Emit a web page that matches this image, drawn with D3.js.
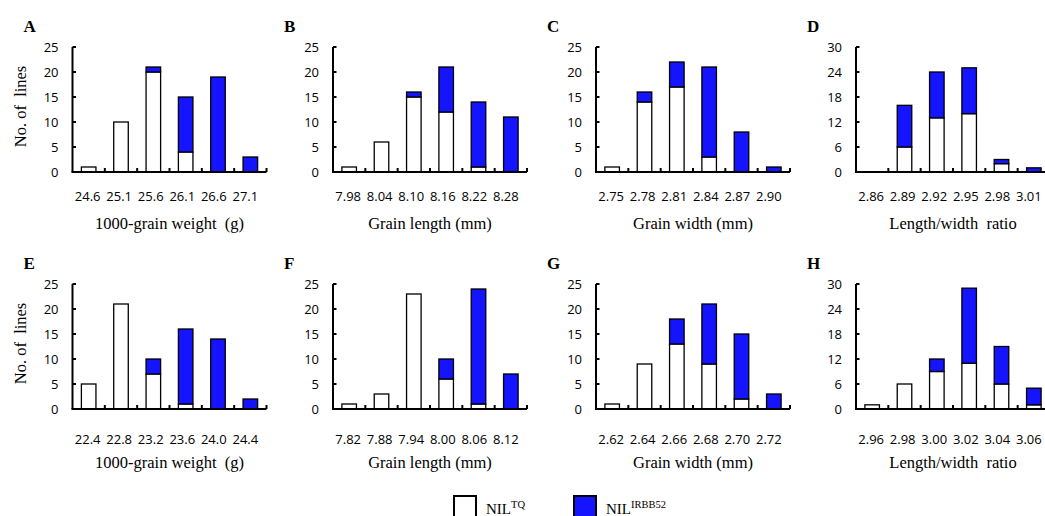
<!DOCTYPE html>
<html>
<head>
<meta charset="utf-8">
<script src="https://cdn.jsdelivr.net/npm/d3@7"></script>
<style>
  body { margin: 0; background: #fff; }
  svg { display: block; }
  .tick-label { font-family: "Open Sans", sans-serif; font-size: 13px; fill: #000; }
  .axis-title { font-family: "Liberation Serif", "Times New Roman", serif; font-size: 16.5px; fill: #000; }
  .panel-letter { font-family: "Liberation Serif", "Times New Roman", serif; font-size: 17px; font-weight: 700; fill: #000; }
  .legend-text { font-family: "Liberation Serif", "Times New Roman", serif; font-size: 15px; fill: #000; }
</style>
</head>
<body>
<div id="chart"></div>
<script>
// bin labels and counts (NIL-TQ white, NIL-IRBB52 blue)
const catsA = ['24.6', '25.1', '25.6', '26.1', '26.6', '27.1'];
const tqA = [1, 10, 20, 4, 0, 0];
const irA = [0, 0, 1, 11, 19, 3];

const catsB = ['7.98', '8.04', '8.10', '8.16', '8.22', '8.28'];
const tqB = [1, 6, 15, 12, 1, 0];
const irB = [0, 0, 1, 9, 13, 11];

const catsC = ['2.75', '2.78', '2.81', '2.84', '2.87', '2.90'];
const tqC = [1, 14, 17, 3, 0, 0];
const irC = [0, 2, 5, 18, 8, 1];

const catsD = ['2.86', '2.89', '2.92', '2.95', '2.98', '3.01'];
const tqD = [0, 6, 13, 14, 2, 0];
const irD = [0, 10, 11, 11, 1, 1];

const catsE = ['22.4', '22.8', '23.2', '23.6', '24.0', '24.4'];
const tqE = [5, 21, 7, 1, 0, 0];
const irE = [0, 0, 3, 15, 14, 2];

const catsF = ['7.82', '7.88', '7.94', '8.00', '8.06', '8.12'];
const tqF = [1, 3, 23, 6, 1, 0];
const irF = [0, 0, 0, 4, 23, 7];

const catsG = ['2.62', '2.64', '2.66', '2.68', '2.70', '2.72'];
const tqG = [1, 9, 13, 9, 2, 0];
const irG = [0, 0, 5, 12, 13, 3];

const catsH = ['2.96', '2.98', '3.00', '3.02', '3.04', '3.06'];
const tqH = [1, 6, 9, 11, 6, 1];
const irH = [0, 0, 3, 18, 9, 4];

const ticks25 = [0, 5, 10, 15, 20, 25];
const ticks30 = [0, 6, 12, 18, 24, 30];

const titleWeight = '1000-grain weight  (g)';
const titleLength = 'Grain length (mm)';
const titleWidth = 'Grain width (mm)';
const titleRatio = 'Length/width  ratio';

const panels = [
  { letter: 'A', cats: catsA, tq: tqA, ir: irA, yTicks: ticks25, title: titleWeight, col: 0, row: 0 },
  { letter: 'B', cats: catsB, tq: tqB, ir: irB, yTicks: ticks25, title: titleLength, col: 1, row: 0 },
  { letter: 'C', cats: catsC, tq: tqC, ir: irC, yTicks: ticks25, title: titleWidth, col: 2, row: 0 },
  { letter: 'D', cats: catsD, tq: tqD, ir: irD, yTicks: ticks30, title: titleRatio, col: 3, row: 0 },
  { letter: 'E', cats: catsE, tq: tqE, ir: irE, yTicks: ticks25, title: titleWeight, col: 0, row: 1 },
  { letter: 'F', cats: catsF, tq: tqF, ir: irF, yTicks: ticks25, title: titleLength, col: 1, row: 1 },
  { letter: 'G', cats: catsG, tq: tqG, ir: irG, yTicks: ticks25, title: titleWidth, col: 2, row: 1 },
  { letter: 'H', cats: catsH, tq: tqH, ir: irH, yTicks: ticks30, title: titleRatio, col: 3, row: 1 },
];

const W = 1045, H = 516;
const colX = [72.5, 333, 596, 856];
const plotW = 194;
const rowTop = [47, 284];
const plotH = 125;
const labelDy = [29, 35];   // x tick label baseline below axis
const titleDy = [57, 59];   // x title baseline below axis
const BLUE = '#1414FF';

const svg = d3.select('#chart').append('svg').attr('width', W).attr('height', H);

panels.forEach((p) => {
  const x0 = colX[p.col];
  const y0 = rowTop[p.row];
  const g = svg.append('g').attr('transform', `translate(${x0},${y0})`);

  const bins = d3.scaleBand().domain(p.cats).range([0, plotW]).padding(0);
  const x = d3.scaleBand().domain(p.cats).range([0, plotW]).paddingInner(0.55).paddingOuter(0.275);
  const lx = d3.scalePoint().domain(p.cats).range([bins.bandwidth() / 2 - 1, plotW - bins.bandwidth() / 2 - 5]);
  const y = d3.scaleLinear().domain([0, d3.max(p.yTicks)]).range([plotH, 0]);

  const rows = p.cats.map((c, i) => ({ cat: c, tq: p.tq[i], ir: p.ir[i] }));
  const stacked = d3.stack().keys(['tq', 'ir'])(rows);

  stacked.forEach((layer) => {
    g.selectAll(null)
      .data(layer.filter((d) => d[1] - d[0] > 0))
      .join('rect')
      .attr('x', (d) => x(d.data.cat))
      .attr('y', (d) => y(d[1]))
      .attr('width', x.bandwidth())
      .attr('height', (d) => y(d[0]) - y(d[1]))
      .attr('fill', layer.key === 'tq' ? '#fff' : BLUE)
      .attr('stroke', '#000')
      .attr('stroke-width', 1.3);
  });

  // y axis
  g.append('line').attr('x1', 0).attr('x2', 0).attr('y1', y(d3.max(p.yTicks))).attr('y2', plotH)
    .attr('stroke', '#000').attr('stroke-width', 2);
  p.yTicks.forEach((t) => {
    g.append('line').attr('x1', 0).attr('x2', 3.5).attr('y1', y(t)).attr('y2', y(t))
      .attr('stroke', '#000').attr('stroke-width', 2);
    g.append('text').attr('class', 'tick-label')
      .attr('x', -14).attr('y', y(t)).attr('dy', '0.36em')
      .attr('text-anchor', 'end').text(t);
  });

  // x axis with ticks at bin boundaries
  g.append('line').attr('x1', -1).attr('x2', plotW).attr('y1', plotH).attr('y2', plotH)
    .attr('stroke', '#000').attr('stroke-width', 2);
  p.cats.forEach((c) => {
    const bx = bins(c) + bins.bandwidth();
    g.append('line').attr('x1', bx).attr('x2', bx).attr('y1', plotH).attr('y2', plotH - 4)
      .attr('stroke', '#000').attr('stroke-width', 2);
    g.append('text').attr('class', 'tick-label')
      .attr('x', lx(c)).attr('y', plotH + labelDy[p.row])
      .attr('text-anchor', 'middle').text(c);
  });

  g.append('text').attr('class', 'axis-title')
    .attr('x', plotW / 2).attr('y', plotH + titleDy[p.row])
    .attr('text-anchor', 'middle').attr('xml:space', 'preserve').style('white-space', 'pre')
    .text(p.title);

  g.append('text').attr('class', 'panel-letter')
    .attr('x', -49).attr('y', -15).text(p.letter);

  if (p.col === 0) {
    g.append('text').attr('class', 'axis-title')
      .attr('transform', `translate(${-47},${plotH / 2 - 3}) rotate(-90)`)
      .attr('text-anchor', 'middle').attr('xml:space', 'preserve').style('white-space', 'pre')
      .text('No. of  lines');
  }
});

// legend
const legendItems = [
  { fill: '#fff', sup: 'TQ', x: 454 },
  { fill: BLUE, sup: 'IRBB52', x: 574 },
];
const lg = svg.append('g');
legendItems.forEach((it) => {
  lg.append('rect').attr('x', it.x).attr('y', 496).attr('width', 22).attr('height', 24)
    .attr('fill', it.fill).attr('stroke', '#000').attr('stroke-width', 2);
  const t = lg.append('text').attr('class', 'legend-text').attr('x', it.x + 32).attr('y', 514);
  t.append('tspan').text('NIL');
  t.append('tspan').attr('dy', -6).style('font-size', '10.5px').text(it.sup);
});
</script>
</body>
</html>
